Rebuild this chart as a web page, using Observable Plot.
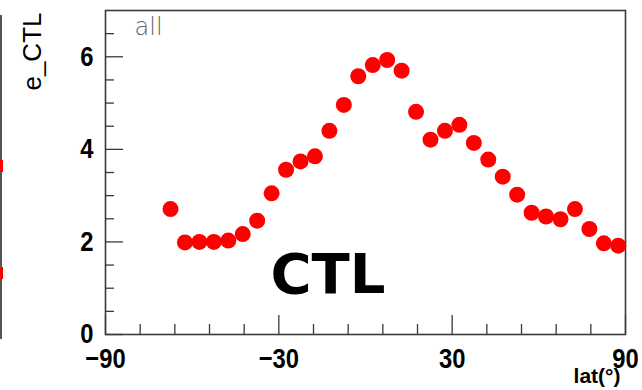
<!DOCTYPE html>
<html><head><meta charset="utf-8">
<script src="https://cdn.jsdelivr.net/npm/d3@7"></script>
<script src="https://cdn.jsdelivr.net/npm/@observablehq/plot@0.6"></script>
<style>
html,body{margin:0;padding:0;background:#fff;}
#wrap{position:relative;width:642px;height:390px;overflow:hidden;}
#edge{position:absolute;left:0;top:15px;width:2px;height:324px;background:#555;}
.bit{position:absolute;left:0;width:3px;height:12px;background:#ff0000;}
</style></head><body><div id="wrap"><div id="edge"></div><div class="bit" style="top:160px"></div><div class="bit" style="top:267px"></div></div>
<script>
// latitude bins (degrees)
const lat = [-67.5,-62.5,-57.5,-52.5,-47.5,-42.5,-37.5,-32.5,-27.5,-22.5,-17.5,-12.5,-7.5,-2.5,2.5,7.5,
             12.5,17.5,22.5,27.5,32.5,37.5,42.5,47.5,52.5,57.5,62.5,67.5,72.5,77.5,82.5,87.5];
// e_CTL values
const eCTL = [2.71,1.99,2.00,2.00,2.03,2.17,2.46,3.05,3.56,3.74,3.85,4.40,4.96,5.58,5.82,5.93,
              5.70,4.81,4.21,4.40,4.53,4.14,3.78,3.41,3.02,2.63,2.55,2.49,2.71,2.28,1.97,1.92];
// axis ticks
const xMajor = [-90,-30,30,90];
const xMinor = [-78,-66,-54,-42,-18,-6,6,18,42,54,66,78];
const yMajor = [0,2,4,6];
const yMinor = [0.5,1,1.5,2.5,3,3.5,4.5,5,5.5,6.5];
// texts
const yLabel = "e_CTL";
const xLabel = "lat(°)";
const panelTag = "all";
const annoLabel = ["CTL"];
const annoLat = [-13];
const annoVal = [1.28];

const W = 642, H = 390, mL = 105, mR = 17, mT = 10, mB = 56;
const pw = W - mL - mR, ph = H - mT - mB;
const axisColor = "#3a3a3a";

const pts = lat.map((l, i) => ({lat: l, v: eCTL[i]}));
const anno = annoLabel.map((t, i) => ({t, lat: annoLat[i], v: annoVal[i]}));

const chart = Plot.plot({
  width: W, height: H,
  marginLeft: mL, marginRight: mR, marginTop: mT, marginBottom: mB,
  x: {domain: [-90, 90]},
  y: {domain: [0, 7]},
  style: {fontFamily: "'Liberation Sans', Arial, sans-serif", color: "black", background: "white", overflow: "visible"},
  marks: [
    Plot.tickY(yMajor, {y: d => d, insetRight: pw - 18, stroke: axisColor, strokeWidth: 1.3}),
    Plot.tickY(yMinor, {y: d => d, insetRight: pw - 9, stroke: axisColor, strokeWidth: 1.3}),
    Plot.tickX(xMajor, {x: d => d, insetTop: ph - 19, stroke: axisColor, strokeWidth: 1.3}),
    Plot.tickX(xMinor, {x: d => d, insetTop: ph - 10, stroke: axisColor, strokeWidth: 1.3}),
    Plot.frame({stroke: axisColor, strokeWidth: 1.6}),
    Plot.axisY(yMajor, {tickSize: 0, tickPadding: 12, fontSize: 28, fontWeight: "bold", label: null}),
    Plot.text([xLabel], {frameAnchor: "bottom-right", textAnchor: "end", lineAnchor: "middle", dx: -5, dy: 42, fontSize: 21, fontWeight: "bold"}),
    Plot.axisX(xMajor, {tickSize: 0, tickPadding: 14, fontSize: 28, fontWeight: "bold", label: null}),
    Plot.text([yLabel], {frameAnchor: "top-left", rotate: -90, textAnchor: "end", lineAnchor: "middle", dx: -73, dy: 2, fontSize: 26}),
    Plot.text([panelTag], {frameAnchor: "top-left", textAnchor: "start", lineAnchor: "top", dx: 29, dy: 7, fontSize: 24, fill: "#666", fontWeight: 200, fontFamily: "'DejaVu Sans', sans-serif"}),
    Plot.dot(pts, {x: "lat", y: "v", r: 8, fill: "#ff0000", stroke: "none"}),
    Plot.text(anno, {x: "lat", y: "v", text: "t", fontSize: 56, fontWeight: "bold", fill: "black", fontFamily: "'Comic Sans MS', 'DejaVu Sans', sans-serif"})
  ]
});
// condense the tick labels horizontally, like the reference's narrow bold digits
d3.select(chart).selectAll("g[aria-label='y-axis tick label'] text, g[aria-label='x-axis tick label'] text")
  .attr("transform", function () { return (this.getAttribute("transform") || "") + " scale(0.85,1)"; });
document.getElementById("wrap").appendChild(chart);
</script>
</body></html>
